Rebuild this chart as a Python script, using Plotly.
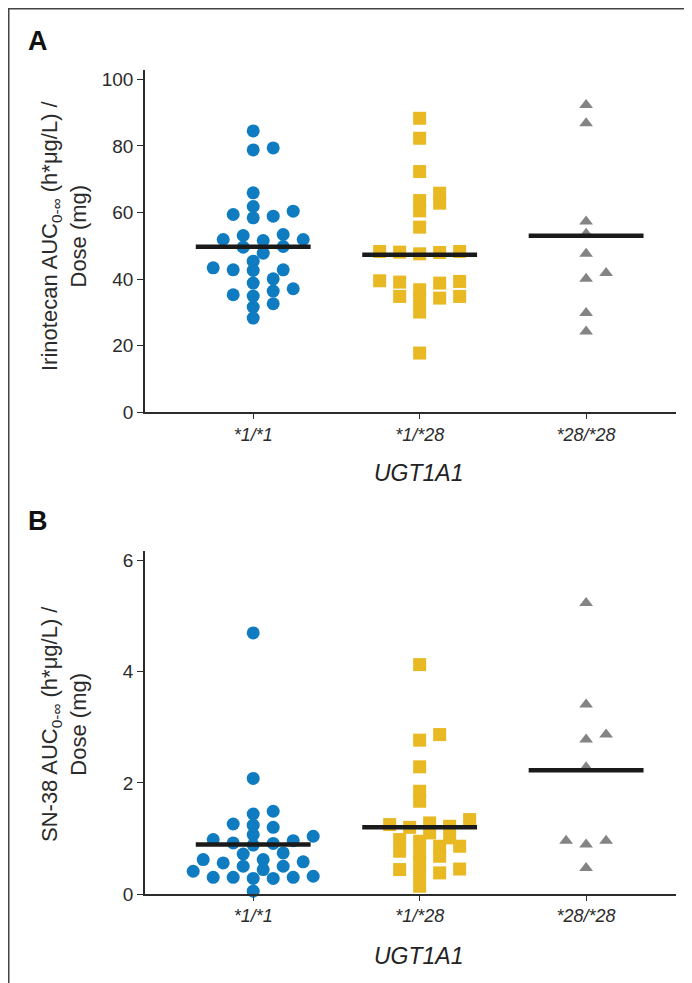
import plotly.graph_objects as go

# ---------------- data ----------------
categories = ["*1/*1", "*1/*28", "*28/*28"]

irino_11 = [84.5, 78.8, 79.4, 65.9, 61.8, 59.4, 58.4, 58.9, 60.4, 51.9, 53.1, 53.4, 51.6, 51.9,
            49.8, 49.6, 47.8, 45.4, 42.6, 42.8, 42.8, 43.4, 40.1, 38.8, 37.1, 36.4, 35.3, 34.9,
            32.6, 31.6, 28.3]
irino_128 = [88.3, 82.3, 72.3, 65.8, 63.6, 62.8, 60.5, 55.6, 48.3, 48.0, 47.6, 48.1, 48.3,
             39.5, 39.1, 36.8, 38.8, 39.3, 34.8, 33.8, 34.3, 34.8, 30.1, 17.8]
irino_2828 = [92.3, 86.8, 57.3, 53.6, 47.6, 41.8, 40.1, 29.8, 24.3]
irino_center = [49.7, 47.3, 53.0]

sn38_11 = [4.70, 2.08, 1.44, 1.49, 1.24, 1.26, 1.20, 0.98, 1.07, 1.04, 0.96, 0.92, 0.91, 0.88,
           0.74, 0.72, 0.62, 0.58, 0.56, 0.62, 0.50, 0.50, 0.44, 0.41, 0.30, 0.28, 0.32, 0.30,
           0.28, 0.30, 0.05]
sn38_128 = [4.13, 2.87, 2.77, 2.29, 1.85, 1.67, 1.28, 1.22, 1.25, 1.34, 1.20, 1.10, 1.01, 0.95,
            0.98, 0.86, 0.77, 0.73, 0.86, 0.68, 0.56, 0.38, 0.44, 0.36, 0.45, 0.14]
sn38_2828 = [5.24, 3.41, 2.87, 2.78, 2.28, 0.96, 0.89, 0.96, 0.47]
sn38_center = [0.89, 1.20, 2.23]

yticks_A = [0, 20, 40, 60, 80, 100]
yticks_B = [0, 2, 4, 6]

# ---------------- layout constants ----------------
W, H = 692, 983
L, R = 137, 668            # plot area x in px
TOP_A, BOT_A = 62, 404.3
TOP_B, BOT_B = 543.3, 886
XR = [-0.65, 2.54]
YR_A = [0, 102.8]
YR_B = [0, 6.17]

colors = ["#0f7cc1", "#e8b923", "#848484"]
symbols = ["circle", "square", "triangle-up"]
msizes = [13, 13, 12]

pw = R - L
ph = BOT_B - TOP_A
xpx = pw / (XR[1] - XR[0])
ypx_A = (BOT_A - TOP_A) / (YR_A[1] - YR_A[0])
ypx_B = (BOT_B - TOP_B) / (YR_B[1] - YR_B[0])


def swarm(vals, ypx, step=10.0, ax=20.0, by=9.0):
    """Greedy beeswarm: rows spaced ax px apart, stacks allowed every by px."""
    n = len(vals)
    offs = [0.0] * n
    placed = []
    order = sorted(range(n), key=lambda i: vals[i])
    for i in order:
        y = vals[i] * ypx
        ok = 0.0
        found = False
        for k in range(0, 30):
            cands = [0] if k == 0 else [k, -k]
            for c in cands:
                x = c * step
                if all(((x - px) / ax) ** 2 + ((y - py) / by) ** 2 >= 0.999 for px, py in placed):
                    ok = x
                    found = True
                    break
            if found:
                break
        placed.append((ok, y))
        offs[i] = ok / xpx
    return offs


fig = go.Figure()
font_family = "Liberation Sans, Arial, sans-serif"
dark = "#2b2b2b"

panels = [
    ([irino_11, irino_128, irino_2828], irino_center, ypx_A, "x", "y"),
    ([sn38_11, sn38_128, sn38_2828], sn38_center, ypx_B, "x2", "y2"),
]
for groups, centers, ypx, xa, ya in panels:
    for gi, vals in enumerate(groups):
        offs = swarm(vals, ypx)
        fig.add_trace(go.Scatter(
            x=[gi + o for o in offs], y=vals, mode="markers",
            marker=dict(color=colors[gi], symbol=symbols[gi], size=msizes[gi], line=dict(width=0)),
            xaxis=xa, yaxis=ya, showlegend=False, cliponaxis=False, hoverinfo="y"))
    for gi, c in enumerate(centers):
        fig.add_trace(go.Scatter(
            x=[gi - 0.345, gi + 0.345], y=[c, c], mode="lines",
            line=dict(color="#1a1a1a", width=4.5),
            xaxis=xa, yaxis=ya, showlegend=False, cliponaxis=False, hoverinfo="skip"))

dom_A = [(BOT_B - BOT_A) / ph, 1.0]
dom_B = [0.0, (BOT_B - TOP_B) / ph]

xcommon = dict(range=XR, tickmode="array", tickvals=[0, 1, 2], ticktext=categories,
               showline=True, linecolor=dark, linewidth=1.5, ticks="outside", ticklen=5,
               tickwidth=1.2, tickcolor=dark, showgrid=False, zeroline=False,
               tickfont=dict(family=font_family, size=18, color=dark, style="italic"))
ycommon = dict(showline=True, linecolor=dark, linewidth=1.5, ticks="outside", ticklen=6,
               tickwidth=1.2, tickcolor=dark, showgrid=False, zeroline=False,
               tickfont=dict(family=font_family, size=19, color=dark))

fig.update_layout(
    width=W, height=H,
    margin=dict(l=L, r=W - R, t=TOP_A, b=H - BOT_B, autoexpand=False),
    paper_bgcolor="white", plot_bgcolor="white",
    xaxis=dict(domain=[0, 1], anchor="y", **xcommon),
    yaxis=dict(domain=dom_A, anchor="x", range=YR_A, tickvals=yticks_A, **ycommon),
    xaxis2=dict(domain=[0, 1], anchor="y2", **xcommon),
    yaxis2=dict(domain=dom_B, anchor="x2", range=YR_B, tickvals=yticks_B, **ycommon),
)


def px2x(px):
    return (px - L) / pw


def px2y(py):
    return (BOT_B - py) / ph


ann = []
ann.append(dict(text="<b>A</b>", x=px2x(30), y=px2y(33), xref="paper", yref="paper",
                showarrow=False, xanchor="center", yanchor="middle",
                font=dict(family=font_family, size=27, color="#111")))
ann.append(dict(text="<b>B</b>", x=px2x(30), y=px2y(513), xref="paper", yref="paper",
                showarrow=False, xanchor="center", yanchor="middle",
                font=dict(family=font_family, size=27, color="#111")))
ann.append(dict(text="Irinotecan AUC<sub>0-∞</sub> (h*μg/L) /<br>Dose (mg)",
                x=px2x(56), y=px2y(228), xref="paper", yref="paper", textangle=-90,
                showarrow=False, xanchor="center", yanchor="middle", align="center",
                font=dict(family=font_family, size=22, color=dark)))
ann.append(dict(text="SN-38 AUC<sub>0-∞</sub> (h*μg/L) /<br>Dose (mg)",
                x=px2x(56), y=px2y(716), xref="paper", yref="paper", textangle=-90,
                showarrow=False, xanchor="center", yanchor="middle", align="center",
                font=dict(family=font_family, size=22, color=dark)))
for yy in (465, 948):
    ann.append(dict(text="<i>UGT1A1</i>", x=px2x(411), y=px2y(yy), xref="paper", yref="paper",
                    showarrow=False, xanchor="center", yanchor="middle",
                    font=dict(family=font_family, size=23, color="#222")))
fig.update_layout(annotations=ann)

fig.add_shape(type="rect", xref="paper", yref="paper",
              x0=px2x(0.75), x1=px2x(W - 1.25), y0=px2y(H - 1.25), y1=px2y(0.75),
              line=dict(color="#444", width=1.5), fillcolor="rgba(0,0,0,0)", layer="above")

fig.write_html("out.html")
